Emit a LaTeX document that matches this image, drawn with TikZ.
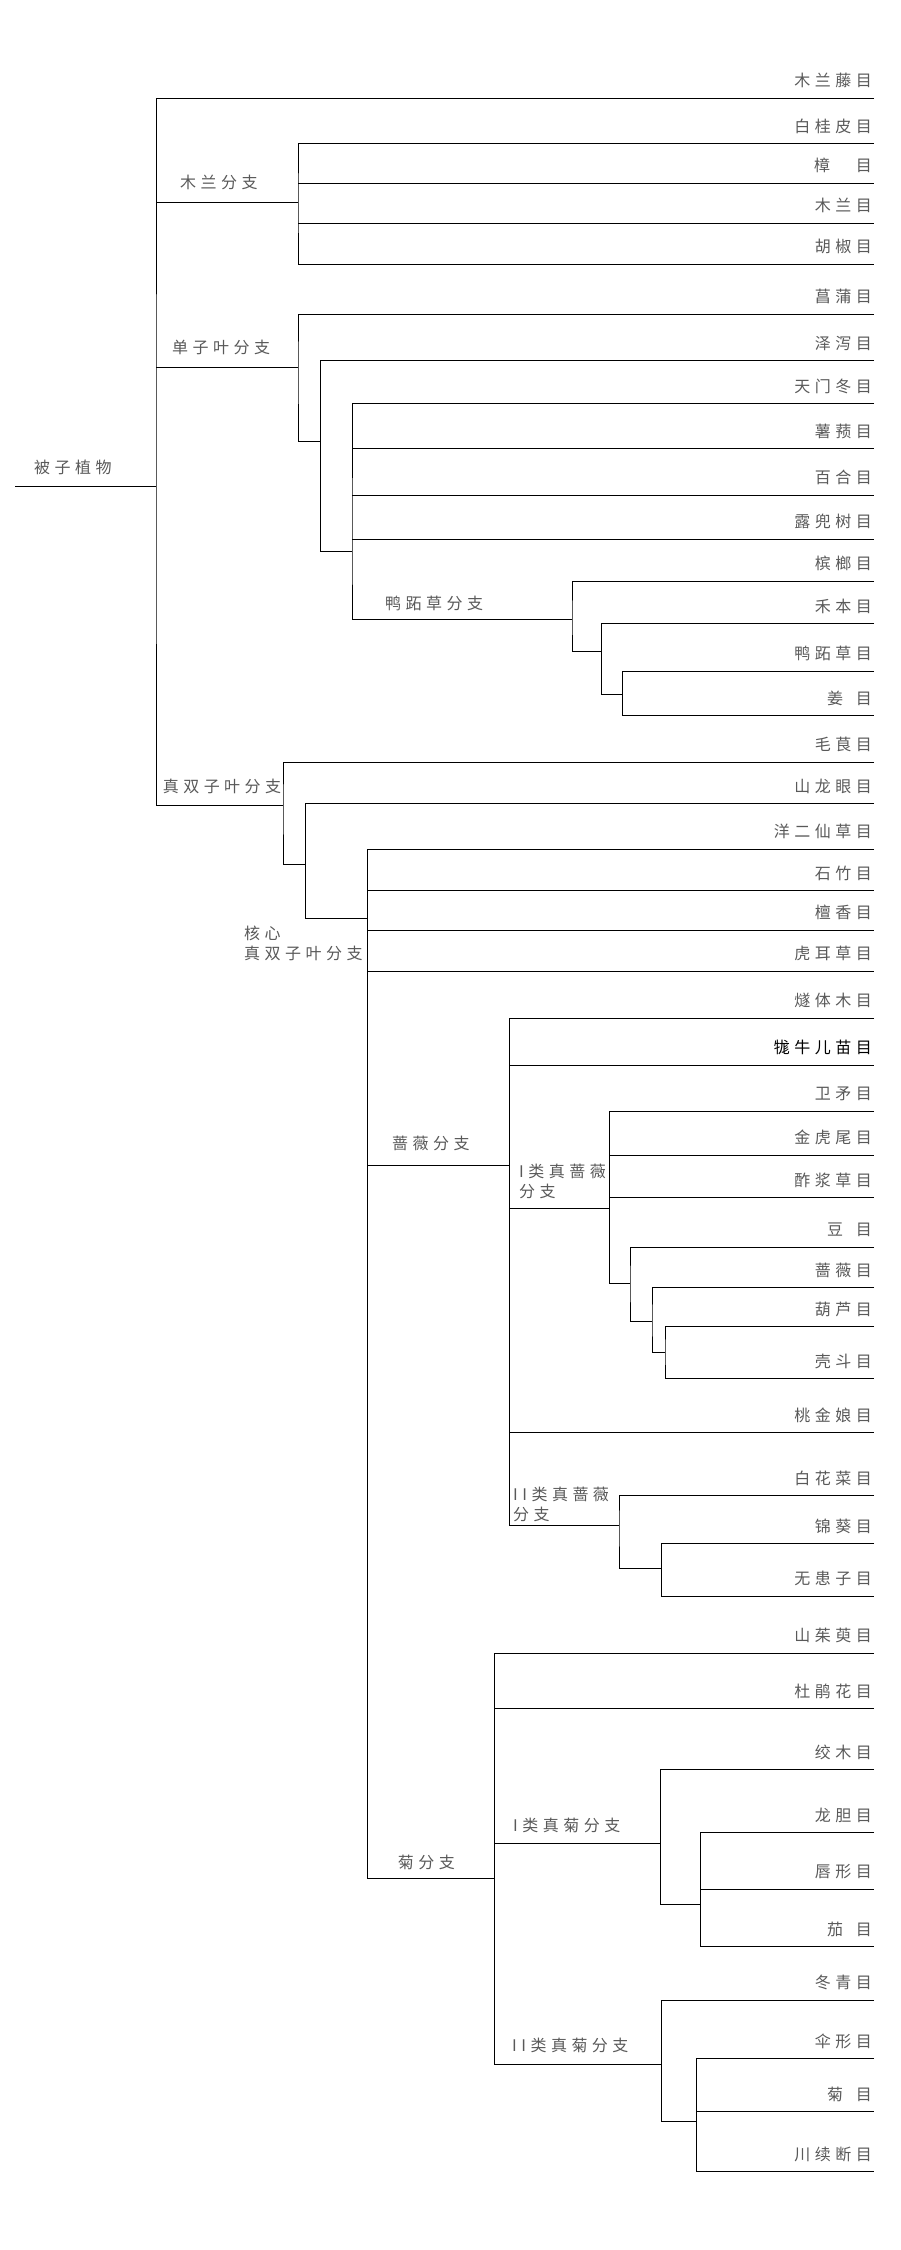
\documentclass[tikz,border=0pt]{standalone}
\usepackage{fontspec}
\usepackage{xcolor}
\usepackage{tikz}
\usetikzlibrary{positioning}
\newfontfamily\cjk[LetterSpace=28]{Noto Sans CJK SC}
\definecolor{schrift}{gray}{0.35}
\tikzset{
  ast/.style={draw=black,line width=0.9pt},
  blatt/.style={font=\cjk\fontsize{16}{20}\selectfont,text=schrift,anchor=east,inner sep=0pt,xshift=-2pt,yshift=17.5pt},
  gruppe/.style={font=\cjk\fontsize{16}{20}\selectfont,text=schrift,anchor=west,inner sep=0pt,align=left}
}
\begin{document}
\begin{tikzpicture}[x=1pt,y=-1pt]
	\useasboundingbox (0,0) rectangle (900,2250);
	% Ordnungen (rechte Enden)
	\coordinate (austro) at (874,98); \node[blatt] (austro-t) at (austro) {木兰藤目};
	\coordinate (canel) at (874,143.8); \node[blatt] (canel-t) at (canel) {白桂皮目};
	\coordinate (laur) at (874,183.3); \node[blatt] (laur-t) at (laur) {樟\hspace*{1.6em}目};
	\coordinate (magn) at (874,223.3); \node[blatt] (magn-t) at (magn) {木兰目};
	\coordinate (piper) at (874,264.3); \node[blatt] (piper-t) at (piper) {胡椒目};
	\coordinate (acor) at (874,314.3); \node[blatt] (acor-t) at (acor) {菖蒲目};
	\coordinate (alism) at (874,360.5); \node[blatt] (alism-t) at (alism) {泽泻目};
	\coordinate (asparag) at (874,403.8); \node[blatt] (asparag-t) at (asparag) {天门冬目};
	\coordinate (dios) at (874,448.6); \node[blatt] (dios-t) at (dios) {薯蓣目};
	\coordinate (lili) at (874,495.2); \node[blatt] (lili-t) at (lili) {百合目};
	\coordinate (pandan) at (874,539); \node[blatt] (pandan-t) at (pandan) {露兜树目};
	\coordinate (arec) at (874,581); \node[blatt] (arec-t) at (arec) {槟榔目};
	\coordinate (poal) at (874,623.8); \node[blatt] (poal-t) at (poal) {禾本目};
	\coordinate (commel) at (874,671.4); \node[blatt] (commel-t) at (commel) {鸭跖草目};
	\coordinate (zing) at (874,715.7); \node[blatt] (zing-t) at (zing) {姜\hspace*{0.8em}目};
	\coordinate (ranun) at (874,762); \node[blatt] (ranun-t) at (ranun) {毛茛目};
	\coordinate (prote) at (874,803.5); \node[blatt] (prote-t) at (prote) {山龙眼目};
	\coordinate (gunn) at (874,849); \node[blatt] (gunn-t) at (gunn) {洋二仙草目};
	\coordinate (caryo) at (874,890.5); \node[blatt] (caryo-t) at (caryo) {石竹目};
	\coordinate (santal) at (874,930); \node[blatt] (santal-t) at (santal) {檀香目};
	\coordinate (saxi) at (874,971); \node[blatt] (saxi-t) at (saxi) {虎耳草目};
	\coordinate (crosso) at (874,1018); \node[blatt] (crosso-t) at (crosso) {燧体木目};
	\coordinate (geran) at (874,1065); \node[blatt,text=black] (geran-t) at (geran) {牻牛儿苗目};
	\coordinate (celas) at (874,1111); \node[blatt] (celas-t) at (celas) {卫矛目};
	\coordinate (malpig) at (874,1155); \node[blatt] (malpig-t) at (malpig) {金虎尾目};
	\coordinate (oxal) at (874,1197.5); \node[blatt] (oxal-t) at (oxal) {酢浆草目};
	\coordinate (fab) at (874,1247.5); \node[blatt] (fab-t) at (fab) {豆\hspace*{0.8em}目};
	\coordinate (ros) at (874,1287.5); \node[blatt] (ros-t) at (ros) {蔷薇目};
	\coordinate (cucur) at (874,1326.5); \node[blatt] (cucur-t) at (cucur) {葫芦目};
	\coordinate (fag) at (874,1378.5); \node[blatt] (fag-t) at (fag) {壳斗目};
	\coordinate (myrt) at (874,1432.5); \node[blatt] (myrt-t) at (myrt) {桃金娘目};
	\coordinate (brass) at (874,1495.5); \node[blatt] (brass-t) at (brass) {白花菜目};
	\coordinate (malvo) at (874,1543.5); \node[blatt] (malvo-t) at (malvo) {锦葵目};
	\coordinate (sapin) at (874,1596); \node[blatt] (sapin-t) at (sapin) {无患子目};
	\coordinate (corn) at (874,1653); \node[blatt] (corn-t) at (corn) {山茱萸目};
	\coordinate (eric) at (874,1708.5); \node[blatt] (eric-t) at (eric) {杜鹃花目};
	\coordinate (garry) at (874,1769.5); \node[blatt] (garry-t) at (garry) {绞木目};
	\coordinate (gent) at (874,1832.5); \node[blatt] (gent-t) at (gent) {龙胆目};
	\coordinate (lami) at (874,1889); \node[blatt] (lami-t) at (lami) {唇形目};
	\coordinate (solan) at (874,1946.5); \node[blatt] (solan-t) at (solan) {茄\hspace*{0.8em}目};
	\coordinate (aqui) at (874,2000); \node[blatt] (aqui-t) at (aqui) {冬青目};
	\coordinate (api) at (874,2058.5); \node[blatt] (api-t) at (api) {伞形目};
	\coordinate (aster) at (874,2111.5); \node[blatt] (aster-t) at (aster) {菊\hspace*{0.8em}目};
	\coordinate (dips) at (874,2171.5); \node[blatt] (dips-t) at (dips) {川续断目};

	% Verzweigungen
	\coordinate (stamm) at (15,486);
	\coordinate (angio) at (156,486);
	\coordinate (magnoliid) at (298,202.4);
	\coordinate (monocot) at (298,367.6);
	\coordinate (mono2) at (320.6,441.4);
	\coordinate (mono3) at (352,551);
	\coordinate (commelinid) at (572,619);
	\coordinate (comm2) at (601.8,651);
	\coordinate (comm3) at (622.4,694.3);
	\coordinate (eudicot) at (283,805.5);
	\coordinate (eud2) at (305.8,864);
	\coordinate (core) at (367.4,918);
	\coordinate (rosid) at (509.4,1165);
	\coordinate (fabid) at (609.8,1208);
	\coordinate (fab2) at (630,1283.5);
	\coordinate (fab3) at (652,1321);
	\coordinate (fab4) at (665,1352);
	\coordinate (malvid) at (619,1525);
	\coordinate (malv2) at (661.7,1568);
	\coordinate (asterid) at (494.6,1878.5);
	\coordinate (lamiid) at (660.6,1843.5);
	\coordinate (lam2) at (700,1904.5);
	\coordinate (campanulid) at (661.7,2064.5);
	\coordinate (camp2) at (696.5,2121);

	% Namen der Aeste
	\node[gruppe] (angio-t) at (34,467.6) {被子植物};
	\node[gruppe] (magnoliid-t) at (180,182.4) {木兰分支};
	\node[gruppe] (monocot-t) at (172,347.6) {单子叶分支};
	\node[gruppe] (commelinid-t) at (385,603) {鸭跖草分支};
	\node[gruppe] (eudicot-t) at (162.6,786) {真双子叶分支};
	\node[gruppe] (core-t) at (244,943.5) {核心\\真双子叶分支};
	\node[gruppe] (rosid-t) at (392,1143.5) {蔷薇分支};
	\node[gruppe] (fabid-t) at (519,1181.5) {I类真蔷薇\\分支};
	\node[gruppe] (malvid-t) at (513,1504) {II类真蔷薇\\分支};
	\node[gruppe] (asterid-t) at (397.6,1862.5) {菊分支};
	\node[gruppe] (lamiid-t) at (513,1825) {I类真菊分支};
	\node[gruppe] (campanulid-t) at (512,2045) {II类真菊分支};

	% Wurzel
	\draw[ast] (stamm) -- (angio);
	\draw[ast] (austro) -| (angio) |- (eudicot);
	\draw[ast] (angio |- magnoliid) -- (magnoliid);
	\draw[ast] (angio |- monocot) -- (monocot);

	% Magnoliiden
	\draw[ast] (canel) -| (magnoliid) |- (piper);
	\draw[ast] (magnoliid |- laur) -- (laur);
	\draw[ast] (magnoliid |- magn) -- (magn);

	% Einkeimblaettrige
	\draw[ast] (acor) -| (monocot) |- (mono2);
	\draw[ast] (alism) -| (mono2) |- (mono3);
	\draw[ast] (asparag) -| (mono3) |- (commelinid);
	\draw[ast] (mono3 |- dios) -- (dios);
	\draw[ast] (mono3 |- lili) -- (lili);
	\draw[ast] (mono3 |- pandan) -- (pandan);
	\draw[ast] (arec) -| (commelinid) |- (comm2);
	\draw[ast] (poal) -| (comm2) |- (comm3);
	\draw[ast] (commel) -| (comm3) |- (zing);

	% Eudikotyledonen
	\draw[ast] (ranun) -| (eudicot) |- (eud2);
	\draw[ast] (prote) -| (eud2) |- (core);
	\draw[ast] (gunn) -| (core) |- (asterid);
	\draw[ast] (core |- caryo) -- (caryo);
	\draw[ast] (core |- santal) -- (santal);
	\draw[ast] (core |- saxi) -- (saxi);
	\draw[ast] (core |- rosid) -- (rosid);

	% Rosiden
	\draw[ast] (crosso) -| (rosid) |- (malvid);
	\draw[ast] (rosid |- geran) -- (geran);
	\draw[ast] (rosid |- fabid) -- (fabid);
	\draw[ast] (rosid |- myrt) -- (myrt);
	\draw[ast] (celas) -| (fabid) |- (fab2);
	\draw[ast] (fabid |- malpig) -- (malpig);
	\draw[ast] (fabid |- oxal) -- (oxal);
	\draw[ast] (fab) -| (fab2) |- (fab3);
	\draw[ast] (ros) -| (fab3) |- (fab4);
	\draw[ast] (cucur) -| (fab4) |- (fag);
	\draw[ast] (brass) -| (malvid) |- (malv2);
	\draw[ast] (malvo) -| (malv2) |- (sapin);

	% Asteriden
	\draw[ast] (corn) -| (asterid) |- (campanulid);
	\draw[ast] (asterid |- eric) -- (eric);
	\draw[ast] (asterid |- lamiid) -- (lamiid);
	\draw[ast] (garry) -| (lamiid) |- (lam2);
	\draw[ast] (gent) -| (lam2) |- (solan);
	\draw[ast] (lam2 |- lami) -- (lami);
	\draw[ast] (aqui) -| (campanulid) |- (camp2);
	\draw[ast] (api) -| (camp2) |- (dips);
	\draw[ast] (camp2 |- aster) -- (aster);
\end{tikzpicture}
\end{document}
